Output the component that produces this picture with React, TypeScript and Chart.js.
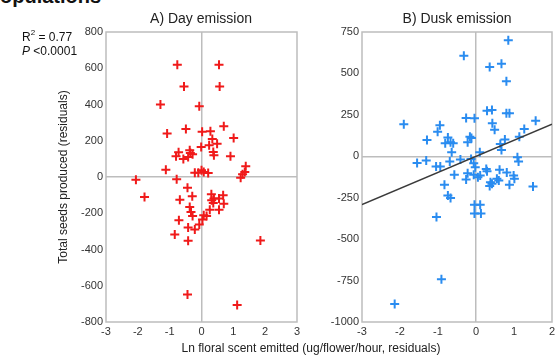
import React, { useEffect, useRef } from "react";
import { Chart, registerables } from "chart.js";

Chart.register(...registerables);

// Panel A: Day emission (x = ln scent residual, y = seeds residual)
const dayX = [-0.76, 0.55, -0.55, 0.57, -1.29, -0.07, -1.08, -0.49, 0.02, 0.28, 0.7, 0.34, 1.01, 0.49, 0.24, -0.72, -0.8, -0.57, -0.37, -0.35, -0.28, -0.42, 0.37, 0.39, 0.91, -0.01, -1.12, -0.21, -0.1, 0.0, 0.07, 0.21, 1.39, 1.36, -2.06, -1.79, -0.78, -0.44, -0.68, -0.29, -0.37, -0.33, -0.28, -0.71, -0.42, -0.21, -0.07, 0.03, 0.07, 0.16, -0.84, -0.42, 0.31, 0.39, 0.32, 0.26, 0.55, 0.68, 0.55, 0.7, 0.37, 1.23, 1.29, 1.85, -0.44, 1.12];
const dayY = [620, 620, 500, 500, 400, 390, 240, 265, 250, 253, 280, 210, 215, 183, 175, 137, 114, 100, 147, 132, 125, 110, 138, 120, 114, 165, 40, 24, 24, 37, 28, 22, 59, 28, -15, -110, -13, -59, -125, -106, -165, -193, -215, -238, -279, -290, -262, -235, -211, -215, -317, -352, -95, -119, -128, -180, -180, -101, -119, -147, -143, -4, 15, -350, -648, -706];

// Panel B: Dusk emission
const duskX = [-1.9, -0.32, 0.85, 0.36, 0.67, 0.8, 0.29, 0.42, 0.8, 0.88, -0.26, -0.04, 0.43, 0.49, 1.57, 1.27, 1.14, 0.76, 0.64, 0.67, -0.95, -1.01, -1.29, -0.74, -0.67, -0.81, -0.6, -0.64, -0.16, -0.12, -0.22, 0.1, -1.55, -1.31, -1.05, -0.94, -0.69, -0.41, -0.13, -0.06, -0.02, -0.57, -0.22, -0.06, 0.11, 0.27, 0.29, 0.62, 0.81, 1.09, 1.12, 0.99, 0.55, -0.26, 0.05, 0.38, 0.42, 0.36, 0.6, 0.88, 1.01, 1.5, -0.83, -0.74, -0.67, -0.04, 0.11, -0.04, 0.13, -1.04, -0.91, -2.14];
const duskY = [194, 607, 700, 539, 559, 453, 275, 279, 259, 259, 231, 229, 200, 160, 214, 164, 118, 102, 74, 38, 188, 148, 98, 114, 84, 78, 78, 24, 118, 110, 84, 24, -40, -26, -62, -62, -32, -20, -16, -42, -66, -112, -102, -112, -116, -76, -90, -82, -98, -6, -32, -116, -136, -140, -126, -156, -166, -180, -146, -172, -136, -182, -172, -236, -252, -292, -292, -346, -346, -366, -742, -892];

// Regression line for panel B
const fitX = [-3, 2];
const fitY = [-292, 194];

// Axis ranges / ticks [min, max, step]
const dayXTicks = [-3, 3, 1];
const dayYTicks = [-800, 800, 200];
const duskXTicks = [-3, 2, 1];
const duskYTicks = [-1000, 750, 250];

const FONT = "'Liberation Sans', Arial, sans-serif";
const W = 560;
const H = 362;

const framePlugin = {
  id: "frame",
  beforeDatasetsDraw(chart: any) {
    const { ctx, chartArea } = chart;
    ctx.save();
    ctx.strokeStyle = "#bdbdbd";
    ctx.lineWidth = 1.5;
    ctx.strokeRect(chartArea.left, chartArea.top, chartArea.right - chartArea.left, chartArea.bottom - chartArea.top);
    ctx.restore();
  },
};

function axis(t: number[], isY: boolean) {
  return {
    type: "linear" as const,
    min: t[0],
    max: t[1],
    afterFit: (s: any) => {
      if (isY) s.width = 46;
      else s.height = 20;
    },
    ticks: {
      stepSize: t[2],
      color: "#333",
      font: { family: FONT, size: 11 },
      padding: 3,
      autoSkip: false,
      maxRotation: 0,
      callback: (v: any) => String(v),
    },
    grid: {
      drawTicks: false,
      lineWidth: 1.5,
      color: (c: any) => (c.tick && c.tick.value === 0 ? "#bdbdbd" : "rgba(0,0,0,0)"),
    },
    border: { display: false },
  };
}

function makeChart(canvas: HTMLCanvasElement, datasets: any[], xt: number[], yt: number[], padding: any) {
  return new Chart(canvas, {
    type: "scatter",
    data: { datasets },
    options: {
      animation: false,
      responsive: false,
      devicePixelRatio: 1,
      layout: { padding },
      plugins: { legend: { display: false }, tooltip: { enabled: false } },
      scales: { x: axis(xt, false), y: axis(yt, true) },
    },
    plugins: [framePlugin],
  });
}

function pts(xs: number[], ys: number[]) {
  return xs.map((x, i) => ({ x, y: ys[i] }));
}

export default function App() {
  const aRef = useRef<HTMLCanvasElement>(null);
  const bRef = useRef<HTMLCanvasElement>(null);

  useEffect(() => {
    const crossStyle = (color: string) => ({
      pointStyle: "cross",
      pointRadius: 4.5,
      pointBorderWidth: 2,
      borderColor: color,
      backgroundColor: color,
      showLine: false,
    });
    const a = makeChart(
      aRef.current!,
      [{ data: pts(dayX, dayY), ...crossStyle("#f01a1a") }],
      dayXTicks,
      dayYTicks,
      { left: 60, right: 263, top: 32, bottom: 20 }
    );
    const b = makeChart(
      bRef.current!,
      [
        {
          type: "line",
          data: pts(fitX, fitY),
          borderColor: "#3a3a3a",
          borderWidth: 1.5,
          pointRadius: 0,
          showLine: true,
        },
        { data: pts(duskX, duskY), ...crossStyle("#2a8cf0") },
      ],
      duskXTicks,
      duskYTicks,
      { left: 316, right: 8, top: 32, bottom: 20 }
    );
    return () => {
      a.destroy();
      b.destroy();
    };
  }, []);

  const abs = (s: React.CSSProperties): React.CSSProperties => ({ position: "absolute", whiteSpace: "nowrap", fontFamily: FONT, ...s });

  return (
    <div style={{ position: "fixed", left: 0, top: 0, width: W, height: H, background: "#fff", overflow: "hidden" }}>
      <div style={abs({ left: 0, top: -14, fontSize: 20, fontWeight: "bold", color: "#111", lineHeight: "20px" })}>opulations</div>
      <canvas ref={aRef} width={W} height={H} style={{ position: "absolute", left: 0, top: 0, width: W, height: H }} />
      <canvas ref={bRef} width={W} height={H} style={{ position: "absolute", left: 0, top: 0, width: W, height: H }} />
      <div style={abs({ left: 201, top: 10, transform: "translateX(-50%)", fontSize: 14, color: "#222" })}>A) Day emission</div>
      <div style={abs({ left: 457, top: 10, transform: "translateX(-50%)", fontSize: 14, color: "#222" })}>B) Dusk emission</div>
      <div style={abs({ left: 22, top: 30, fontSize: 12, color: "#111" })}>
        R<sup style={{ fontSize: 8, verticalAlign: "top", position: "relative", top: -2 }}>2</sup> = 0.77
      </div>
      <div style={abs({ left: 22, top: 44, fontSize: 12, color: "#111" })}>
        <i>P</i> &lt;0.0001
      </div>
      <div style={abs({ left: 63, top: 177, transform: "translate(-50%, -50%) rotate(-90deg)", fontSize: 12, color: "#222" })}>
        Total seeds produced (residuals)
      </div>
      <div style={abs({ left: 311, top: 341, transform: "translateX(-50%)", fontSize: 12, color: "#222" })}>
        Ln floral scent emitted (ug/flower/hour, residuals)
      </div>
    </div>
  );
}
